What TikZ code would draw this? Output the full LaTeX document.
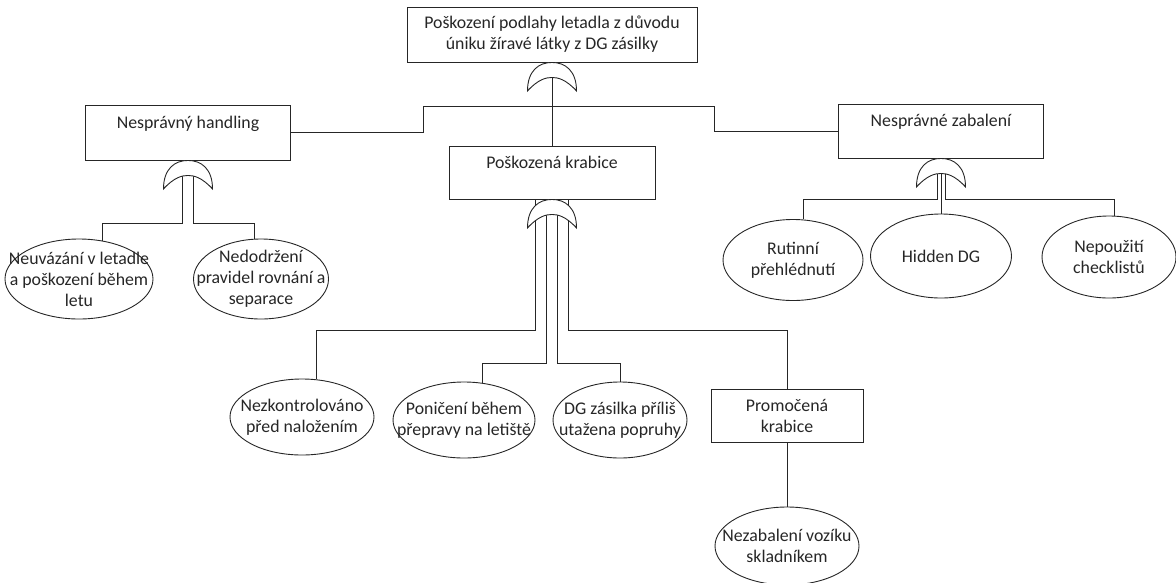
\documentclass[tikz,border=0pt]{standalone}
\usepackage{fontspec}
\setmainfont{Carlito}
\usetikzlibrary{shapes.geometric, calc}

\begin{document}
\begin{tikzpicture}[
  x=1pt, y=-1pt,
  every node/.style={font=\fontsize{17.8}{21}\selectfont, text=black!85},
  box/.style={draw=black!85, line width=0.9pt, inner sep=0pt, align=center},
  leaf/.style={draw=black!85, ellipse, line width=0.9pt, inner sep=0pt},
  txt/.style={align=center, inner sep=0pt},
  wire/.style={draw=black!85, line width=0.9pt},
  pics/orgate/.style={code={
    \draw[fill=white, draw=black!85, line width=0.9pt]
      (-24.5,28.5) .. controls (-24.5,8) and (-13,0) .. (0,0)
      .. controls (13,0) and (24.5,8) .. (24.5,28.5)
      .. controls (14,17) and (6,15) .. (0,15)
      .. controls (-6,15) and (-14,17) .. (-24.5,28.5) -- cycle;
  }}
]
  \useasboundingbox (0,0) rectangle (1176,582);

  % events
  \node[box, minimum width=290, minimum height=55] (top) at (552,34.5)
    {Poškození podlahy letadla z důvodu\\úniku žíravé látky z DG zásilky};
  \node[box, minimum width=205, minimum height=55] (hand) at (188,132.5)
    {Nesprávný handling\\~};
  \node[box, minimum width=206, minimum height=53] (krab) at (552,172.5)
    {Poškozená krabice\\~};
  \node[box, minimum width=205, minimum height=54] (zab) at (941,131)
    {Nesprávné zabalení\\~};
  \node[box, minimum width=152, minimum height=53] (prom) at (787,415.5)
    {Promočená\\krabice};

  % basic events
  \node[leaf, minimum width=148, minimum height=80,
    label={[txt]center:Neuvázání v letadle\\a poškození během\\letu}] (neuv) at (79,279) {};
  \node[leaf, minimum width=135, minimum height=80,
    label={[txt]center:Nedodržení\\pravidel rovnání a\\separace}] (rovn) at (261,279) {};
  \node[leaf, minimum width=144, minimum height=76,
    label={[txt]center:Nezkontrolováno\\před naložením}] (nezk) at (302,417) {};
  \node[leaf, minimum width=142, minimum height=76,
    label={[txt]center:Poničení během\\přepravy na letiště}] (ponic) at (464,420) {};
  \node[leaf, minimum width=134, minimum height=76,
    label={[txt]center:DG zásilka příliš\\utažena popruhy}] (popr) at (620,420) {};
  \node[leaf, minimum width=144, minimum height=78,
    label={[txt]center:Nezabalení vozíku\\skladníkem}] (vozik) at (787,546) {};
  \node[leaf, minimum width=140, minimum height=81,
    label={[txt]center:Rutinní\\přehlédnutí}] (rutin) at (793,260) {};
  \node[leaf, minimum width=141, minimum height=84,
    label={[txt]center:Hidden DG}] (hidden) at (941,256) {};
  \node[leaf, minimum width=134, minimum height=82,
    label={[txt]center:Nepoužití\\checklistů}] (check) at (1109,257) {};

  % top level
  \coordinate (busL) at (423,106);
  \coordinate (busR) at (714,106);
  \draw[wire] (top.south) -- (krab.north);
  \draw[wire] (hand.east) -| (busL) -- (busR) |- (zab.west);

  % handling
  \draw[wire] ($(hand.south)+(-5.5,0)$) -- ++(0,63) -| (neuv.59);
  \draw[wire] ($(hand.south)+(5.5,0)$) -- ++(0,63) -| (rovn.99);

  % krabice
  \draw[wire] ($(krab.south)+(-16.5,0)$) -- ++(0,131) -| (nezk.69);
  \draw[wire] ($(krab.south)+(-5.5,0)$) -- ++(0,164) -| (ponic.64);
  \draw[wire] ($(krab.south)+(5.5,0)$) -- ++(0,164) -| (popr.north);
  \draw[wire] ($(krab.south)+(16.5,0)$) -- ++(0,131) -| (prom.north);
  \draw[wire] (prom.south) -- (vozik.north);

  % zabaleni
  \draw[wire] ($(zab.south)+(-4,0)$) -- ++(0,41) -| (rutin.76);
  \draw[wire] (zab.south) -- (hidden.north);
  \draw[wire] ($(zab.south)+(4,0)$) -- ++(0,41) -| (check.82);

  % gates
  \pic at (top.south) {orgate};
  \pic at (hand.south) {orgate};
  \pic at (krab.south) {orgate};
  \pic at (zab.south) {orgate};
\end{tikzpicture}
\end{document}
